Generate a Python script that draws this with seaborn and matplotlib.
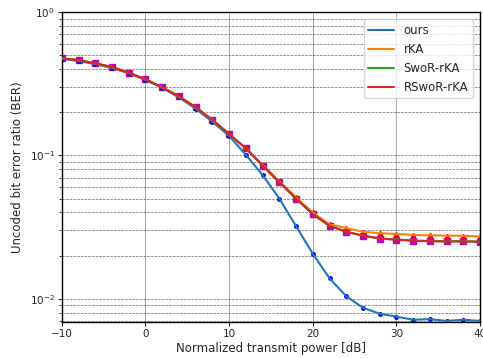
import numpy as np
import pandas as pd
import matplotlib
matplotlib.use("Agg")
import matplotlib.pyplot as plt
import seaborn as sns

# transmit power grid [dB]
power_db = list(range(-10, 41, 2))

ber_ours = [0.472, 0.456, 0.434, 0.408, 0.374, 0.336, 0.296, 0.254, 0.212, 0.172,
            0.137, 0.101, 0.073, 0.050, 0.0321, 0.0206, 0.0139, 0.0104, 0.00865,
            0.00786, 0.0075, 0.00714, 0.0072, 0.0070, 0.00714, 0.0070]
ber_rka = [0.476, 0.463, 0.439, 0.414, 0.378, 0.340, 0.299, 0.258, 0.217, 0.177,
           0.141, 0.112, 0.086, 0.066, 0.051, 0.0400, 0.0330, 0.0312, 0.0293,
           0.0287, 0.0283, 0.0279, 0.0277, 0.0276, 0.0275, 0.0272]
ber_swor = [0.476, 0.463, 0.439, 0.414, 0.378, 0.340, 0.299, 0.258, 0.217, 0.177,
            0.141, 0.112, 0.085, 0.065, 0.050, 0.0390, 0.0323, 0.0294, 0.0276,
            0.0264, 0.0259, 0.0255, 0.0253, 0.0252, 0.0252, 0.0251]
ber_rswor = [0.476, 0.463, 0.439, 0.414, 0.378, 0.340, 0.299, 0.258, 0.217, 0.177,
             0.141, 0.112, 0.085, 0.065, 0.050, 0.0389, 0.0322, 0.0293, 0.0275,
             0.0263, 0.0258, 0.0254, 0.0252, 0.0251, 0.0251, 0.0250]

sns.set_style("ticks")

fig, ax = plt.subplots(figsize=(4.83, 3.58), dpi=100)
fig.subplots_adjust(left=0.128, right=0.994, bottom=0.101, top=0.966)

series = [("ours", ber_ours), ("rKA", ber_rka),
          ("SwoR-rKA", ber_swor), ("RSwoR-rKA", ber_rswor)]
colors = ["#1f77b4", "#ff7f0e", "#2ca02c", "#d62728"]

# marker layers (no legend)
ax.plot(power_db, ber_rswor, "ms", markersize=5, zorder=2)
ax.plot(power_db, ber_rka, "r^", markersize=3, zorder=2)
ax.plot(power_db, ber_ours, "b.", markersize=5, zorder=2)

for (name, vals), c in zip(series, colors):
    df = pd.DataFrame({"power": power_db, "ber": vals})
    sns.lineplot(data=df, x="power", y="ber", color=c, label=name,
                 linewidth=1.5, ax=ax, zorder=3)

ax.set_yscale("log")
ax.set_xlim(-10, 40)
ax.set_ylim(0.0069, 1)
ax.set_xticks([-10, 0, 10, 20, 30, 40])

ax.grid(True, axis="x", which="major", color="#b0b0b0", linewidth=0.8)
ax.grid(True, axis="y", which="both", color="k", linestyle="--",
        linewidth=0.5, alpha=0.6)

for s in ax.spines.values():
    s.set_color("black")
    s.set_linewidth(1.0)

ax.set_xlabel("Normalized transmit power [dB]", fontsize=8.5, labelpad=2)
ax.set_ylabel("Uncoded bit error ratio (BER)", fontsize=8.5, labelpad=4)
ax.tick_params(labelsize=7.5, length=3, pad=2)
ax.tick_params(which="minor", length=2)
ax.legend(loc="upper right", fontsize=8.5, framealpha=0.8,
          borderaxespad=0.6, handlelength=2.2)

fig.savefig("out.png", dpi=100)
